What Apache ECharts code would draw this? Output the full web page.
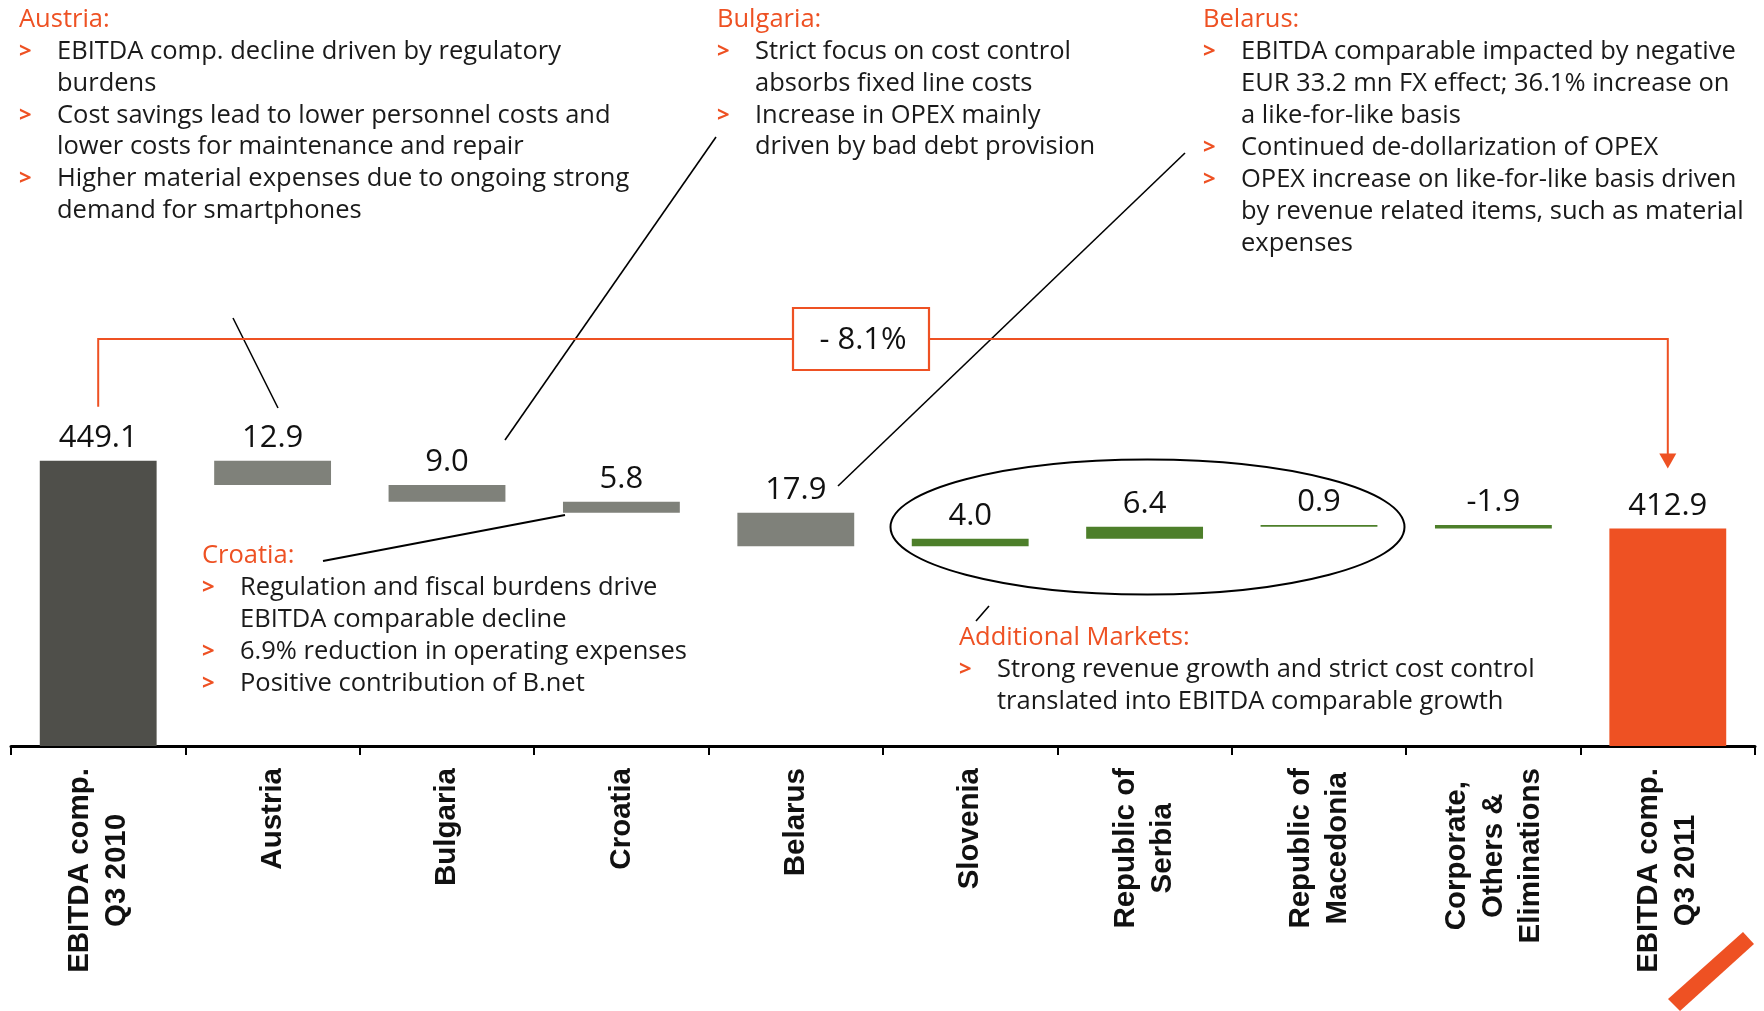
<!DOCTYPE html>
<html><head><meta charset="utf-8">
<script src="https://cdn.jsdelivr.net/npm/echarts@6/dist/echarts.min.js"></script>
<style>html,body{margin:0;padding:0;background:#fff}#c{width:1764px;height:1011px}</style>
</head><body><div id="c"></div>
<script>
// ---- data ----
const categories = ['EBITDA comp.\nQ3 2010', 'Austria', 'Bulgaria', 'Croatia', 'Belarus', 'Slovenia',
  'Republic of\nSerbia', 'Republic of\nMacedonia', 'Corporate,\nOthers &\nEliminations', 'EBITDA comp.\nQ3 2011'];
const changes = [449.1, -12.9, -9.0, -5.8, -17.9, 4.0, 6.4, 0.9, -1.9, 412.9];
const valueLabels = ['449.1', '12.9', '9.0', '5.8', '17.9', '4.0', '6.4', '0.9', '-1.9', '412.9'];
const totalChangeLabel = '- 8.1%';

const austriaNotes = [
  ['EBITDA comp. decline driven by regulatory', 'burdens'],
  ['Cost savings lead to lower personnel costs and', 'lower costs for maintenance and repair'],
  ['Higher material expenses due to ongoing strong', 'demand for smartphones']
];
const bulgariaNotes = [
  ['Strict focus on cost control', 'absorbs fixed line costs'],
  ['Increase in OPEX mainly', 'driven by bad debt provision']
];
const belarusNotes = [
  ['EBITDA comparable impacted by negative', 'EUR 33.2 mn FX effect; 36.1% increase on', 'a like-for-like basis'],
  ['Continued de-dollarization of OPEX'],
  ['OPEX increase on like-for-like basis driven', 'by revenue related items, such as material', 'expenses']
];
const croatiaNotes = [
  ['Regulation and fiscal burdens drive', 'EBITDA comparable decline'],
  ['6.9% reduction in operating expenses'],
  ['Positive contribution of B.net']
];
const additionalNotes = [
  ['Strong revenue growth and strict cost control', 'translated into EBITDA comparable growth']
];

// ---- waterfall helper arrays ----
const baseVals = [], barVals = [];
let run = 0;
changes.forEach((v, i) => {
  if (i === 0 || i === changes.length - 1) { baseVals.push(0); barVals.push(v); run = v; }
  else if (v < 0) { run += v; baseVals.push(+run.toFixed(1)); barVals.push(-v); }
  else { baseVals.push(+run.toFixed(1)); barVals.push(v); run += v; }
});

const ORANGE = '#ee5123';
const NOTE_FONT = 'Open Sans';
function colorFor(i) {
  if (i === 0) return '#4f4f4a';
  if (i === changes.length - 1) return '#ee5123';
  if (i <= 4) return '#7f817a';
  return '#4d7f2a';
}

const chart = echarts.init(document.getElementById('c'), null, {renderer: 'canvas'});
chart.setOption({
  animation: false,
  backgroundColor: '#fff',
  grid: {left: 11, right: 9, top: 459, bottom: 265, containLabel: false},
  xAxis: {
    type: 'category', data: categories,
    axisLine: {lineStyle: {color: '#000', width: 3}},
    axisTick: {show: true, length: 9, lineStyle: {color: '#000', width: 2}},
    axisLabel: {
      interval: 0, rotate: 90, margin: 22,
      formatter: v => v.split('\n').map(s => '{a|' + s + '}').join('\n'),
      rich: {a: {fontFamily: 'Liberation Sans', fontWeight: 'bold', fontSize: 29.5, color: '#111', lineHeight: 37, align: 'center'}}
    }
  },
  yAxis: {type: 'value', min: 297, max: 450, show: false, splitLine: {show: false}},
  series: [
    {type: 'bar', stack: 'w', data: baseVals, barWidth: '67%', silent: true,
     itemStyle: {color: 'rgba(0,0,0,0)'}},
    {type: 'bar', stack: 'w', data: barVals, barWidth: '67%',
     itemStyle: {color: p => colorFor(p.dataIndex)},
     label: {show: true, position: 'top', distance: 7,
       formatter: p => valueLabels[p.dataIndex],
       fontFamily: 'Open Sans', fontSize: 31, color: '#111'}}
  ]
});

// ---- annotations ----
function noteBlock(x, y, title, bullets, pitch) {
  const els = [];
  const base = {fontSize: 25.5, fontFamily: NOTE_FONT, verticalAlign: 'middle'};
  els.push({type: 'text', x: x, y: y, style: Object.assign({text: title, fill: ORANGE}, base)});
  let ly = y + pitch;
  bullets.forEach(lines => {
    els.push({type: 'text', x: x, y: ly, style: Object.assign({text: '>', fill: ORANGE}, base, {fontSize: 22, fontWeight: 'bold'})});
    lines.forEach(line => {
      els.push({type: 'text', x: x + 38, y: ly, style: Object.assign({text: line, fill: '#1a1a1a'}, base)});
      ly += pitch;
    });
  });
  return els;
}

const startPt = chart.convertToPixel({gridIndex: 0}, [0, changes[0]]);
const endPt = chart.convertToPixel({gridIndex: 0}, [changes.length - 1, changes[changes.length - 1]]);
const bracketY = 339;
const lineBlack = {stroke: '#000', lineWidth: 1.6, fill: null};

const graphics = [].concat(
  noteBlock(19, 20, 'Austria:', austriaNotes, 31.8),
  noteBlock(717, 20, 'Bulgaria:', bulgariaNotes, 31.8),
  noteBlock(1203, 20, 'Belarus:', belarusNotes, 31.9),
  noteBlock(202, 556, 'Croatia:', croatiaNotes, 32),
  noteBlock(959, 638, 'Additional Markets:', additionalNotes, 32),
  [
    {type: 'line', shape: {x1: 233, y1: 318, x2: 278, y2: 408}, style: lineBlack},
    {type: 'line', shape: {x1: 716, y1: 137, x2: 505, y2: 440}, style: lineBlack},
    {type: 'line', shape: {x1: 1185, y1: 153, x2: 838, y2: 486}, style: lineBlack},
    {type: 'line', shape: {x1: 323, y1: 561, x2: 565, y2: 515}, style: {stroke: '#000', lineWidth: 2.2}},
    {type: 'line', shape: {x1: 989, y1: 606, x2: 976, y2: 621}, style: lineBlack},
    {type: 'ellipse', shape: {cx: 1147.5, cy: 527, rx: 257, ry: 67.5}, style: {stroke: '#000', lineWidth: 2, fill: null}},
    {type: 'polyline', shape: {points: [[startPt[0], startPt[1] - 54], [startPt[0], bracketY], [793, bracketY]]},
     style: {stroke: ORANGE, lineWidth: 2, fill: null}},
    {type: 'polyline', shape: {points: [[929, bracketY], [endPt[0], bracketY], [endPt[0], endPt[1] - 74]]},
     style: {stroke: ORANGE, lineWidth: 2, fill: null}},
    {type: 'polygon', shape: {points: [[endPt[0] - 8.5, endPt[1] - 75], [endPt[0] + 8.5, endPt[1] - 75], [endPt[0], endPt[1] - 60]]},
     style: {fill: ORANGE}},
    {type: 'rect', shape: {x: 793, y: 308, width: 136, height: 62}, style: {stroke: ORANGE, lineWidth: 2.2, fill: '#fff'}},
    {type: 'text', x: 863, y: 340, style: {text: totalChangeLabel, fontFamily: 'Open Sans', fontSize: 31, fill: '#111', align: 'center', verticalAlign: 'middle'}},
    {type: 'polygon', shape: {points: [[1668, 999], [1743, 932], [1754, 944], [1680, 1011]]}, style: {fill: ORANGE}}
  ]
);
chart.setOption({graphic: {elements: graphics}});
</script>
</body></html>
